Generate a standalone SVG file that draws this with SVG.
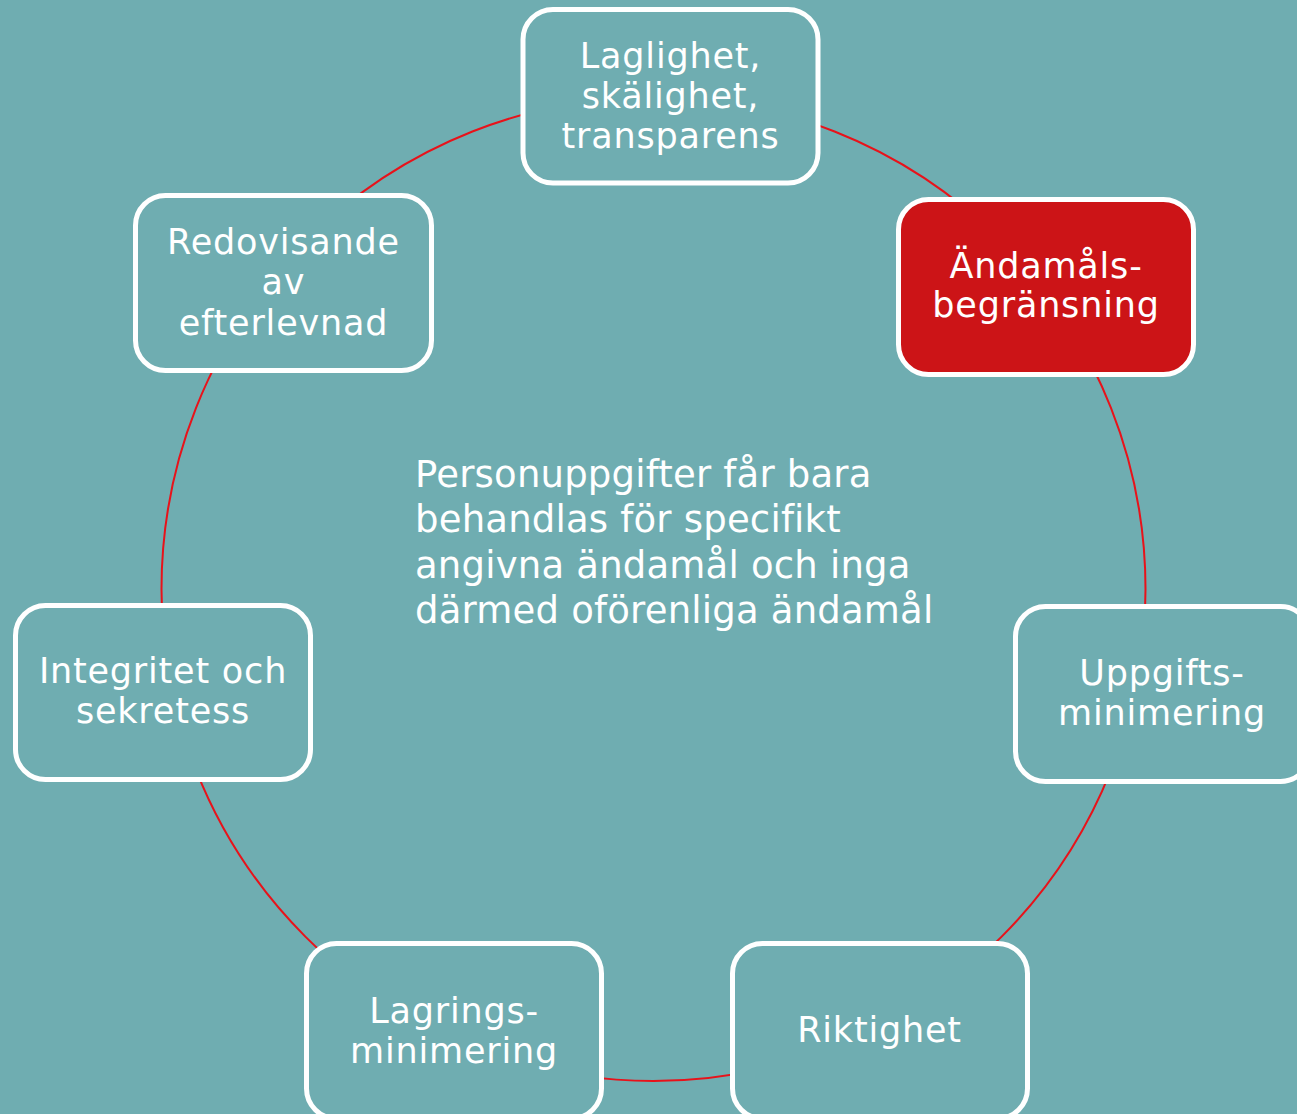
<svg xmlns="http://www.w3.org/2000/svg" width="1297" height="1114" viewBox="0 0 1297 1114">
<style>
.box{fill:#6FADB1;stroke:#FFFFFF;stroke-width:5}
.hl{fill:#CC1417}
.lbl{font-family:"DejaVu Sans","Liberation Sans",sans-serif;font-size:35px;fill:#FFFFFF;text-anchor:middle;letter-spacing:0.8px}
.main{font-family:"DejaVu Sans","Liberation Sans",sans-serif;font-size:37px;fill:#FFFFFF;letter-spacing:0.2px}
.ring{fill:none;stroke:#E8121A;stroke-width:2}
</style>
<rect x="0" y="0" width="1297" height="1114" fill="#6FADB1"/>
<g id="connectors">
<circle class="ring" cx="653.5" cy="589" r="492"/>
</g>
<g id="node-laglighet">
<rect class="box" x="523" y="9.5" width="295" height="173.5" rx="30"/>
<text class="lbl" x="670.5" y="68">Laglighet,</text>
<text class="lbl" x="670.5" y="108">skälighet,</text>
<text class="lbl" x="670.5" y="148">transparens</text>
</g>
<g id="node-andamal">
<rect class="box hl" x="898.5" y="199.5" width="295" height="175" rx="30"/>
<text class="lbl" x="1046" y="278">Ändamåls-</text>
<text class="lbl" x="1046" y="317">begränsning</text>
</g>
<g id="node-uppgifts">
<rect class="box" x="1015.5" y="606.5" width="295" height="175" rx="30"/>
<text class="lbl" x="1162" y="685">Uppgifts-</text>
<text class="lbl" x="1162" y="725">minimering</text>
</g>
<g id="node-riktighet">
<rect class="box" x="732.5" y="943.5" width="295" height="175" rx="30"/>
<text class="lbl" x="879.5" y="1042">Riktighet</text>
</g>
<g id="node-lagrings">
<rect class="box" x="306.5" y="943.5" width="295" height="175" rx="30"/>
<text class="lbl" x="454" y="1023">Lagrings-</text>
<text class="lbl" x="454" y="1063">minimering</text>
</g>
<g id="node-integritet">
<rect class="box" x="15.5" y="605.5" width="295" height="174" rx="30"/>
<text class="lbl" x="163" y="683">Integritet och</text>
<text class="lbl" x="163" y="723">sekretess</text>
</g>
<g id="node-redovisande">
<rect class="box" x="135.5" y="195.5" width="296" height="175" rx="30"/>
<text class="lbl" x="283.5" y="254">Redovisande</text>
<text class="lbl" x="283.5" y="294">av</text>
<text class="lbl" x="283.5" y="335">efterlevnad</text>
</g>
<g id="center-text">
<text class="main" x="415" y="487">Personuppgifter får bara</text>
<text class="main" x="415" y="532">behandlas för specifikt</text>
<text class="main" x="415" y="578">angivna ändamål och inga</text>
<text class="main" x="415" y="623">därmed oförenliga ändamål</text>
</g>
</svg>
